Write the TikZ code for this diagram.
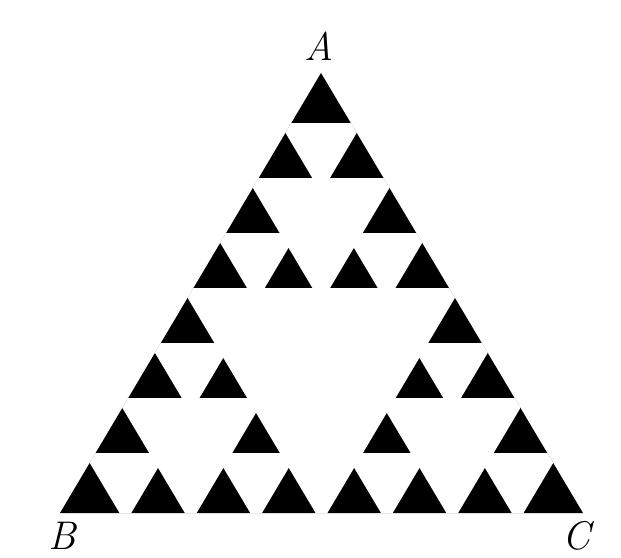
\documentclass[tikz,border=0pt]{standalone}
\usepackage{fontspec}
\usepackage{tikz}

\begin{document}
\begin{tikzpicture}[x=1pt,y=-1pt,
			cell/.style={fill=black},
			cut/.style={draw=white,line width=10pt},
			lbl/.style={font=\fontsize{40}{40}\selectfont\itshape,anchor=base,inner sep=0pt}]
			\useasboundingbox (0,0) rectangle (621,557);
			\begin{scope}[shift={(60pt,-513pt)},x={(65.375pt,0pt)},y={(32.625pt,55pt)}]
				% black cells of the third stage
				\foreach \i/\j in {0/0,1/0,2/0,3/0,4/0,5/0,6/0,7/0,
						0/1,2/1,4/1,6/1,
						0/2,1/2,4/2,5/2,
						0/3,4/3,
						0/4,1/4,2/4,3/4,
						0/5,2/5,
						0/6,1/6,
						0/7}
					\fill[cell] (\i,\j) -- ++(1,0) -- ++(-1,1) -- cycle;
				% white grid lines
				\clip (0,0) -- (8,0) -- (0,8) -- cycle;
				\foreach \k in {1,...,7} {
					\draw[cut] (-1,\k) -- ({9-\k},\k);
					\draw[cut] (\k,-1) -- (\k,{9-\k});
					\draw[cut] ({\k+1},-1) -- (-1,{\k+1});
				}
			\end{scope}
			\node[lbl] (a) at (319,60) {A};
			\node[lbl] (b) at (62,549) {B};
			\node[lbl] (c) at (576,549) {C};
		\end{tikzpicture}
\end{document}
